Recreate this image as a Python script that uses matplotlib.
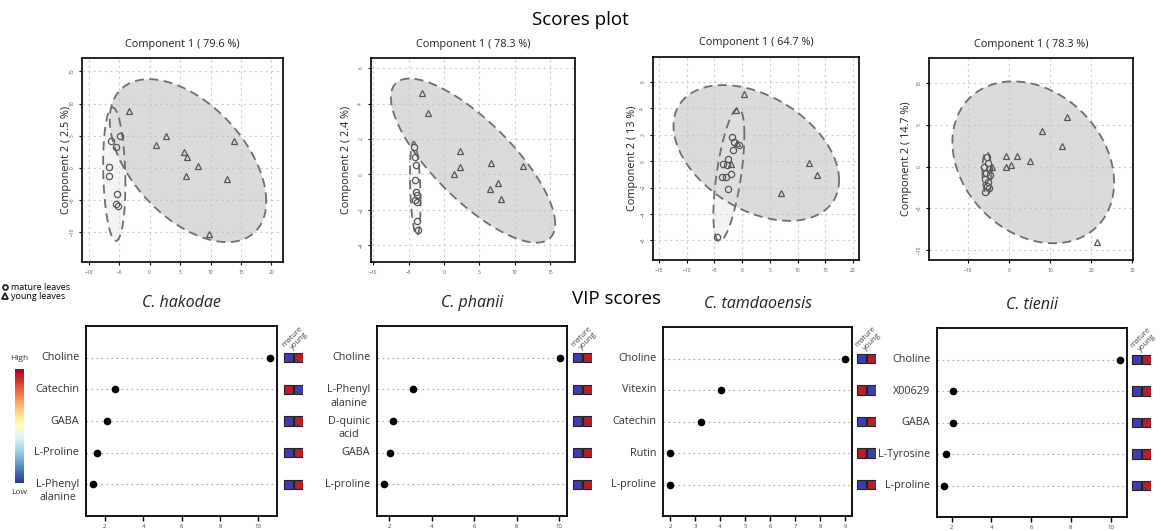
import numpy as np
import matplotlib.pyplot as plt
from matplotlib.lines import Line2D
from matplotlib.patches import Rectangle
import matplotlib.transforms as mtransforms

plt.rcParams['font.family'] = ['Open Sans', 'DejaVu Sans']

# ---------------- scores plot data (component 1, component 2) ----------------
hak_mature_x = [-6.4, -5.6, -6.6, -6.7, -5.4, -5.6, -5.2, -4.9]
hak_mature_y = [4.2, 3.2, 0.05, -1.25, -4.1, -5.6, -5.9, 4.9]
hak_young_x = [-3.4, 2.7, 1.1, 5.6, 6.1, 8.0, 6.0, 13.8, 12.7, 9.7]
hak_young_y = [8.9, 4.9, 3.5, 2.5, 1.6, 0.3, -1.3, 4.2, -1.8, -10.4]

pha_mature_x = [-4.2, -4.1, -4.0, -4.1, -3.9, -3.75, -4.1, -3.85, -3.75, -3.6]
pha_mature_y = [1.57, 1.0, 0.53, -0.32, -0.98, -1.17, -1.45, -1.55, -2.6, -3.15]
pha_young_x = [-3.1, -2.3, 2.25, 2.25, 1.4, 6.7, 11.1, 7.6, 6.5, 8.1]
pha_young_y = [4.6, 3.45, 1.34, 0.4, 0.0, 0.66, 0.47, -0.5, -0.8, -1.4]

tam_mature_x = [-1.87, -1.4, -0.6, -1.57, -2.6, -3.5, -2.7, -2.0, -3.6, -3.0, -2.6, -4.6]
tam_mature_y = [1.8, 1.47, 1.2, 0.84, 0.2, -0.18, -0.3, -1.0, -1.2, -1.24, -2.15, -5.75]
tam_young_x = [0.3, -1.1, 12.0, 13.5, 7.05, -0.9, -2.0]
tam_young_y = [5.06, 3.87, -0.13, -1.06, -2.38, 1.4, -0.18]

tie_mature_x = [-5.45, -5.1, -6.1, -4.9, -5.7, -4.6, -5.9, -5.1, -5.45, -4.9, -5.85]
tie_mature_y = [1.12, 0.4, -0.08, -0.32, -0.72, -1.0, -1.52, -1.8, -2.32, -2.6, -3.08]
tie_young_x = [14.2, 8.1, 13.0, -0.65, 1.9, 5.1, 0.4, -0.7, 21.4, -4.1]
tie_young_y = [5.9, 4.3, 2.5, 1.3, 1.3, 0.7, 0.2, -0.1, -9.1, -0.08]

# confidence ellipses: centre x, centre y, half-width x, half-width y, correlation
hak_mature_ell = [-5.8, -1.0, 1.83, 10.4, -0.15]
hak_young_ell = [6.3, 1.1, 12.85, 12.7, -0.5]
pha_mature_ell = [-4.05, -0.8, 0.75, 2.65, -0.3]
pha_young_ell = [4.1, 0.78, 11.6, 4.63, -0.77]
tam_mature_ell = [-2.4, -1.03, 2.8, 5.03, 0.6]
tam_young_ell = [2.55, 0.62, 14.95, 5.15, -0.4]
tie_mature_ell = [-5.4, -0.8, 1.1, 2.6, -0.1]
tie_young_ell = [5.9, 0.5, 19.7, 9.7, -0.25]

explained_c1 = ['79.6', '78.3', '64.7', '78.3']
explained_c2 = ['2.5', '2.4', '13', '14.7']

# ---------------- VIP scores data ----------------
species = ['C. hakodae', 'C. phanii', 'C. tamdaoensis', 'C. tienii']

hak_names = ['Choline', 'Catechin', 'GABA', 'L-Proline', 'L-Phenyl\nalanine']
hak_vip = [10.6, 2.52, 2.09, 1.6, 1.39]
hak_mature_high = [0, 1, 0, 0, 0]

pha_names = ['Choline', 'L-Phenyl\nalanine', 'D-quinic\nacid', 'GABA', 'L-proline']
pha_vip = [10.03, 3.11, 2.16, 2.02, 1.75]
pha_mature_high = [0, 0, 0, 0, 0]

tam_names = ['Choline', 'Vitexin', 'Catechin', 'Rutin', 'L-proline']
tam_vip = [9.0, 4.02, 3.24, 2.0, 2.0]
tam_mature_high = [0, 1, 0, 1, 0]

tie_names = ['Choline', 'X00629', 'GABA', 'L-Tyrosine', 'L-proline']
tie_vip = [10.47, 2.07, 2.04, 1.73, 1.61]
tie_mature_high = [0, 0, 0, 0, 0]

W, H = 1161, 531
BLUE, RED = '#3b3fae', '#b1202c'


def box(l, r, t, b):
    return [l / W, 1 - b / H, (r - l) / W, (b - t) / H]


def ellipse_xy(cx, cy, rx, ry, rho):
    t = np.linspace(0, 2 * np.pi, 300)
    return cx + rx * np.cos(t), cy + ry * (rho * np.cos(t) + np.sqrt(1 - rho ** 2) * np.sin(t))


fig = plt.figure(figsize=(W / 100, H / 100), dpi=100)

fig.text(580 / W, 1 - 20 / H, 'Scores plot', ha='center', va='center', fontsize=13.5)
fig.text(617 / W, 1 - 299 / H, 'VIP scores', ha='center', va='center', fontsize=13.5)

scores = [
    (box(82, 283, 58, 262), hak_mature_x, hak_mature_y, hak_young_x, hak_young_y,
     hak_mature_ell, hak_young_ell, (-11.1, 21.9), (-14.7, 17.1), range(-10, 21, 5), range(-10, 16, 5), 16),
    (box(371, 575, 58, 262), pha_mature_x, pha_mature_y, pha_young_x, pha_young_y,
     pha_mature_ell, pha_young_ell, (-10.3, 18.5), (-4.94, 6.57), range(-10, 16, 5), range(-4, 7, 2), 25),
    (box(653, 859, 57, 260), tam_mature_x, tam_mature_y, tam_young_x, tam_young_y,
     tam_mature_ell, tam_young_ell, (-16.1, 21.1), (-7.5, 7.9), range(-15, 21, 5), range(-6, 7, 2), 21),
    (box(929, 1133, 58, 260), tie_mature_x, tie_mature_y, tie_young_x, tie_young_y,
     tie_mature_ell, tie_young_ell, (-19.5, 30.2), (-11.2, 13.0), range(-10, 31, 10), range(-10, 11, 5), 22),
]

for i, (rect, mx, my, yx, yy, m_ell, y_ell, xlim, ylim, xt, yt, lab_off) in enumerate(scores):
    ax = fig.add_axes(rect)
    ax.set_xlim(*xlim)
    ax.set_ylim(*ylim)
    ax.set_xticks(list(xt))
    ax.set_yticks(list(yt))
    ax.grid(True, color='#cccccc', lw=0.8, ls=(0, (2, 3)))
    ax.set_axisbelow(True)
    ex, ey = ellipse_xy(*y_ell)
    ax.fill(ex, ey, facecolor='#c4c4c4', alpha=0.6, edgecolor='none', zorder=1)
    ex2, ey2 = ellipse_xy(*m_ell)
    ax.fill(ex2, ey2, facecolor='#e6e6e6', alpha=0.45, edgecolor='none', zorder=1)
    ax.plot(ex, ey, color='#6e6e6e', lw=1.3, ls=(0, (5, 3)), zorder=2)
    ax.plot(ex2, ey2, color='#6e6e6e', lw=1.3, ls=(0, (5, 3)), zorder=2)
    ax.plot(mx, my, 'o', mfc='none', mec='#555555', mew=0.9, ms=4.5, zorder=3)
    ax.plot(yx, yy, '^', mfc='none', mec='#555555', mew=0.9, ms=5, zorder=3)
    ax.tick_params(labelsize=3.5, labelcolor='#555555', length=2.5, width=0.8, pad=3)
    for lbl in ax.get_yticklabels():
        lbl.set_rotation(90)
        lbl.set_va('center')
    for s in ax.spines.values():
        s.set_linewidth(1.2)
    ax.text(0.5, 1 + 14 / (rect[3] * H), 'Component 1 ( %s %%)' % explained_c1[i],
            transform=ax.transAxes, ha='center', va='center', fontsize=7.8, color='#222222')
    ax.text(-lab_off / (rect[2] * W), 0.5, 'Component 2 ( %s %%)' % explained_c2[i],
            transform=ax.transAxes, ha='center', va='center', rotation=90, fontsize=7.8, color='#222222')

vips = [
    (box(86, 277, 326, 516), box(283, 303, 326, 516), hak_names, hak_vip, hak_mature_high, range(2, 11, 2)),
    (box(377, 567, 326, 516), box(572, 592, 326, 516), pha_names, pha_vip, pha_mature_high, range(2, 11, 2)),
    (box(663, 852, 327, 516), box(856, 876, 327, 516), tam_names, tam_vip, tam_mature_high, range(2, 10)),
    (box(937, 1127, 328, 517), box(1131, 1151, 328, 517), tie_names, tie_vip, tie_mature_high, range(2, 11, 2)),
]

for i, (rect, hrect, names, vip, mat_high, xt) in enumerate(vips):
    ax = fig.add_axes(rect)
    n = len(names)
    rows = np.arange(n, 0, -1)
    for r in rows:
        ax.axhline(r, color='#a8a8a8', lw=0.8, ls=(0, (1.5, 3)), zorder=1)
    ax.plot(vip, rows, 'o', color='black', ms=4.5, zorder=3)
    lo, hi = min(vip), max(vip)
    pad = 0.04 * (hi - lo)
    ax.set_xlim(lo - pad, hi + pad)
    ax.set_ylim(0, n + 1)
    ax.set_xticks(list(xt))
    ax.set_yticks([])
    ax.tick_params(axis='x', labelsize=4.3, labelcolor='#444444', length=3.5, width=1, pad=2)
    for s in ax.spines.values():
        s.set_linewidth(1.3)
    trans = mtransforms.blended_transform_factory(ax.transAxes, ax.transData)
    for name, r in zip(names, rows):
        off = -0.22 if '\n' in name else 0
        ax.text(-0.035, r + off, name, transform=trans, ha='right', va='center',
                multialignment='center', fontsize=7.8, color='#333333', linespacing=1.3)
    ax.text(0.5, 1 + 23 / (rect[3] * H), species[i], transform=ax.transAxes, ha='center',
            va='center', fontsize=11.5, style='italic', color='#222222')

    hx = fig.add_axes(hrect)
    hx.set_xlim(0, 2)
    hx.set_ylim(0, n + 1)
    hx.axis('off')
    for r, m in zip(rows, mat_high):
        cm, cy = (RED, BLUE) if m else (BLUE, RED)
        hx.add_patch(Rectangle((0.05, r - 0.145), 0.9, 0.29, facecolor=cm, edgecolor='#222222', lw=0.8))
        hx.add_patch(Rectangle((1.05, r - 0.145), 0.9, 0.29, facecolor=cy, edgecolor='#222222', lw=0.8))
    hx.text(0.15, n + 0.35, 'mature', rotation=45, rotation_mode='anchor', ha='left', va='baseline',
            fontsize=5.5, color='#444444')
    hx.text(1.0, n + 0.25, 'young', rotation=45, rotation_mode='anchor', ha='left', va='baseline',
            fontsize=5.5, color='#444444')

# colour key
cax = fig.add_axes(box(15, 24, 369, 483))
cax.imshow(np.linspace(1, 0, 256)[:, None], aspect='auto', cmap='RdYlBu_r')
cax.axis('off')
fig.text(19 / W, 1 - 359 / H, 'High', ha='center', va='center', fontsize=6, color='#333333')
fig.text(19 / W, 1 - 492 / H, 'Low', ha='center', va='center', fontsize=6, color='#333333')

# group legend
handles = [Line2D([], [], marker='o', ls='none', mfc='none', mec='#222222', mew=1.3, ms=3.5),
           Line2D([], [], marker='^', ls='none', mfc='none', mec='#222222', mew=1.3, ms=3.8)]
fig.legend(handles, ['mature leaves', 'young leaves'], loc='upper left',
           bbox_to_anchor=(0.0, 1 - 281 / H), frameon=False, fontsize=6.5, handlelength=0.6,
           handletextpad=0.4, borderpad=0.2, labelspacing=0.05, borderaxespad=0.)

fig.savefig('out.png', dpi=100)
